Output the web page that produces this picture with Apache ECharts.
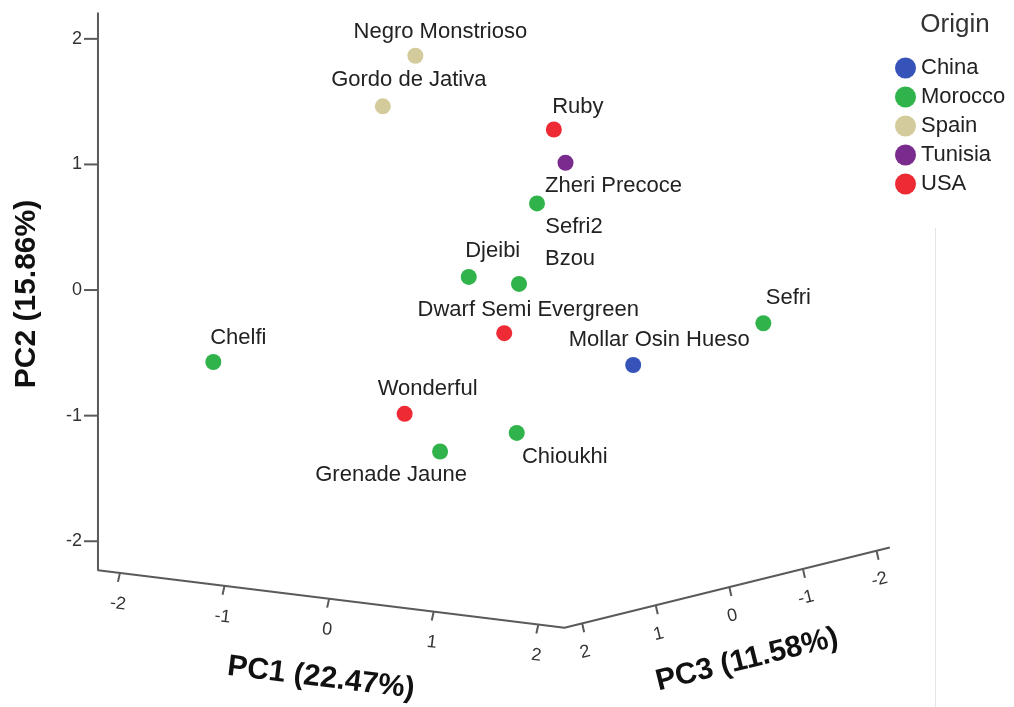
<!DOCTYPE html>
<html>
<head>
<meta charset="utf-8">
<script src="https://cdn.jsdelivr.net/npm/echarts@6/dist/echarts.min.js"></script>
<style>
  html, body { margin: 0; padding: 0; background: #fff; }
  #chart { width: 1014px; height: 707px; }
</style>
</head>
<body>
<div id="chart"></div>
<script>
// Cultivar scores on the first three principal components
const cultivars = ['Negro Monstrioso', 'Gordo de Jativa', 'Ruby', 'Zheri Precoce', 'Sefri2', 'Djeibi', 'Bzou',
  'Dwarf Semi Evergreen', 'Sefri', 'Mollar Osin Hueso', 'Chelfi', 'Wonderful', 'Grenade Jaune', 'Chioukhi'];
const cultivarOrigin = ['Spain', 'Spain', 'USA', 'Tunisia', 'Morocco', 'Morocco', 'Morocco',
  'USA', 'Morocco', 'China', 'Morocco', 'USA', 'Morocco', 'Morocco'];
const pc1 = [-0.40, -0.50, 0.15, -0.02, 0.20, 0.04, 0.38, 0.52, 1.59, 1.19, -2.05, -0.01, 0.54, 0.71];
const pc2 = [1.80, 1.43, 1.11, 0.77, 0.57, 0.07, 0.02, -0.30, -0.40, -0.60, -0.75, -0.91, -1.11, -1.06];
const pc3 = [0.50, 0.80, -0.60, -1.00, -0.30, 0.40, 0.20, 0.60, -1.40, -0.20, 0.90, 1.20, 1.50, 0.70];

const origins = ['China', 'Morocco', 'Spain', 'Tunisia', 'USA'];
const originColors = ['#3553b8', '#2fb34a', '#d3cb9c', '#7a2b8e', '#ee2a35'];

const tickValues = [-2, -1, 0, 1, 2];
const axisTitles = ['PC1 (22.47%)', 'PC2 (15.86%)', 'PC3 (11.58%)'];

// Extent of each component shown in the box
const extent = { pc1: [-2.21, 2.25], pc2: [-2.23, 2.21], pc3: [-2.18, 2.24] };

// Oblique view: screen offset of the origin and of one unit along each component
const view = { ox: 494.0, oy: 277.9, u1: [104.6, 12.9], u2: [0, -125.6], u3: [-73.6, 18.15] };
function project(a, b, c) {
  return [
    view.ox + a * view.u1[0] + b * view.u2[0] + c * view.u3[0],
    view.oy + a * view.u1[1] + b * view.u2[1] + c * view.u3[1]
  ];
}

// Where each cultivar name sits relative to its marker
const labelNudge = {
  'Negro Monstrioso': [25, -24], 'Gordo de Jativa': [26, -26], 'Ruby': [24, -23],
  'Zheri Precoce': [48, 23], 'Sefri2': [37, 23], 'Djeibi': [24, -26], 'Bzou': [51, -25],
  'Dwarf Semi Evergreen': [24, -23], 'Sefri': [25, -25], 'Mollar Osin Hueso': [26, -25],
  'Chelfi': [25, -24], 'Wonderful': [23, -25], 'Grenade Jaune': [-49, 23], 'Chioukhi': [48, 24]
};

const FONT = "'Liberation Sans', Arial, Helvetica, sans-serif";
const AXIS_COLOR = '#5a5a5a';

const pointSeries = origins.map((o, k) => ({
  name: o,
  type: 'scatter',
  symbol: 'circle',
  symbolSize: 16,
  itemStyle: { color: originColors[k], opacity: 1 },
  z: 5,
  data: cultivars
    .map((name, i) => ({ i, name }))
    .filter(d => cultivarOrigin[d.i] === o)
    .map(d => ({
      name: d.name,
      value: project(pc1[d.i], pc2[d.i], pc3[d.i]),
      label: {
        show: true,
        position: 'inside',
        offset: labelNudge[d.name],
        formatter: d.name,
        color: '#222',
        fontSize: 22,
        fontFamily: FONT
      }
    }))
}));

// Box edges: PC2 upright on the left, PC1 along the front, PC3 receding to the right
const [lo1, hi1] = extent.pc1, [lo2, hi2] = extent.pc2, [lo3, hi3] = extent.pc3;
const edgeSeries = {
  type: 'line',
  silent: true,
  symbol: 'none',
  lineStyle: { color: AXIS_COLOR, width: 2 },
  z: 2,
  data: [project(lo1, hi2, hi3), project(lo1, lo2, hi3), project(hi1, lo2, hi3), project(hi1, lo2, lo3)]
};

function tickSeries(pointOf, tickVec, labelOff, rot, align) {
  return {
    type: 'custom',
    silent: true,
    z: 3,
    data: tickValues.map(v => pointOf(v)),
    renderItem: (params, api) => {
      const p = api.coord([api.value(0), api.value(1)]);
      return {
        type: 'group',
        children: [
          { type: 'line', shape: { x1: p[0], y1: p[1], x2: p[0] + tickVec[0], y2: p[1] + tickVec[1] },
            style: { stroke: AXIS_COLOR, lineWidth: 2 } },
          { type: 'text', x: p[0] + labelOff[0], y: p[1] + labelOff[1], rotation: rot,
            style: { text: String(tickValues[params.dataIndex]), fill: '#333', fontSize: 18,
              fontFamily: FONT, align: align, verticalAlign: 'middle' } }
        ]
      };
    }
  };
}

const deg = Math.PI / 180;
const pc2Ticks = tickSeries(v => project(lo1, v, hi3), [-14, 0], [-16, 0], 0, 'right');
const pc1Ticks = tickSeries(v => project(v, lo2, hi3), [-2, 9], [-2, 31], -7 * deg, 'center');
const pc3Ticks = tickSeries(v => project(hi1, lo2, v), [2, 9], [3, 29], 14 * deg, 'center');

const titleStyle = { fill: '#111', fontSize: 30, fontWeight: 'bold', fontFamily: FONT,
  align: 'center', verticalAlign: 'middle' };

const chart = echarts.init(document.getElementById('chart'), null, { renderer: 'canvas' });
chart.setOption({
  backgroundColor: '#fff',
  animation: false,
  grid: { left: 0, right: 0, top: 0, bottom: 0 },
  xAxis: { type: 'value', min: 0, max: 1014, show: false },
  yAxis: { type: 'value', min: 0, max: 707, inverse: true, show: false },
  legend: {
    data: origins,
    orient: 'vertical',
    left: 895,
    top: 57,
    icon: 'circle',
    itemWidth: 21,
    itemHeight: 21,
    itemGap: 7,
    padding: 0,
    selectedMode: false,
    textStyle: { color: '#222', fontSize: 22, fontFamily: FONT, padding: [0, 0, 0, 0] }
  },
  graphic: [
    { type: 'text', x: 955, y: 25, style: { text: 'Origin', fill: '#333', fontSize: 26, fontFamily: FONT,
        align: 'center', verticalAlign: 'middle' } },
    { type: 'text', x: 321, y: 678, rotation: -7 * deg, style: Object.assign({ text: axisTitles[0] }, titleStyle) },
    { type: 'text', x: 27, y: 294, rotation: 90 * deg, style: Object.assign({ text: axisTitles[1] }, titleStyle) },
    { type: 'text', x: 747, y: 660, rotation: 14 * deg, style: Object.assign({ text: axisTitles[2] }, titleStyle) },
    { type: 'line', shape: { x1: 935.5, y1: 228, x2: 935.5, y2: 707 }, style: { stroke: '#e4e4e4', lineWidth: 1 } }
  ],
  series: [edgeSeries, pc2Ticks, pc1Ticks, pc3Ticks, ...pointSeries]
});
</script>
</body>
</html>
